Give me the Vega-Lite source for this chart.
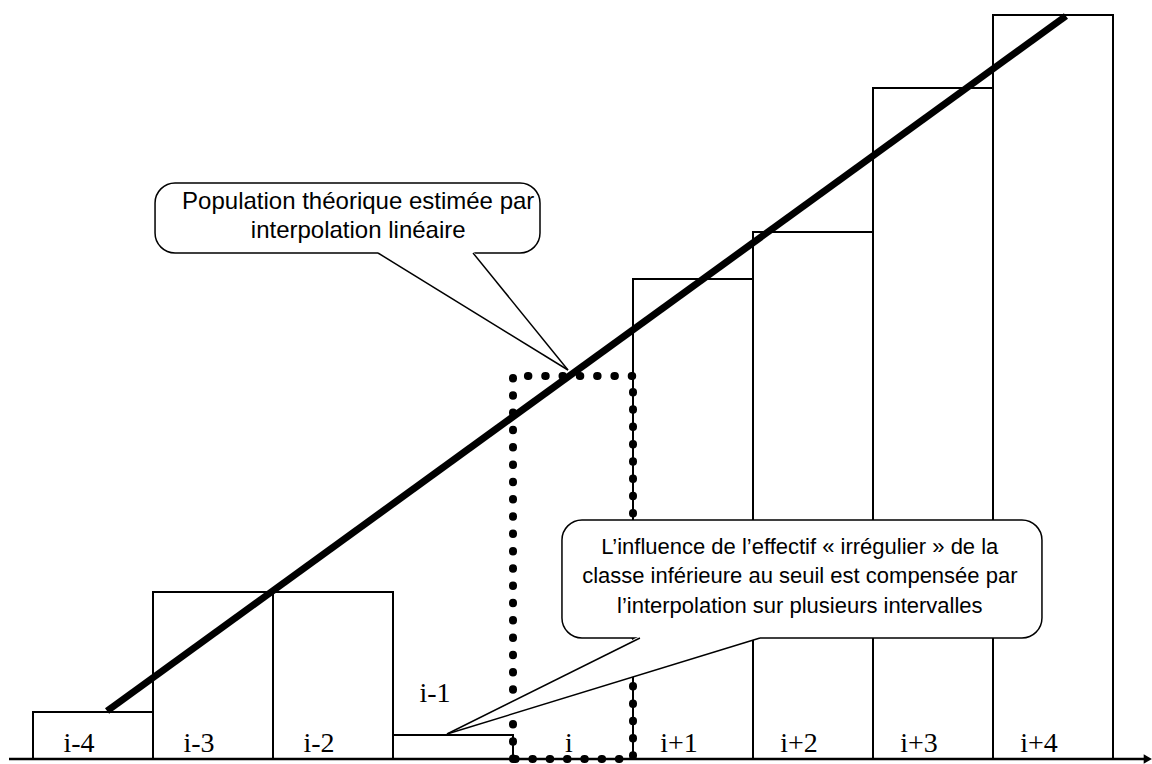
{
  "$schema": "https://vega.github.io/schema/vega-lite/v6.json",
  "width": 1152,
  "height": 764,
  "autosize": {"type": "none"},
  "padding": 0,
  "background": "white",
  "view": {"stroke": null},
  "datasets": {
    "bars": [
      {"cls": "i-4", "x0": 0, "x1": 1, "mid": 0.5, "h": 4.7},
      {"cls": "i-3", "x0": 1, "x1": 2, "mid": 1.5, "h": 16.7},
      {"cls": "i-2", "x0": 2, "x1": 3, "mid": 2.5, "h": 16.7},
      {"cls": "i-1", "x0": 3, "x1": 4, "mid": 3.5, "h": 2.4},
      {"cls": "i", "x0": 4, "x1": 5, "mid": 4.5, "h": 0},
      {"cls": "i+1", "x0": 5, "x1": 6, "mid": 5.5, "h": 48.0},
      {"cls": "i+2", "x0": 6, "x1": 7, "mid": 6.5, "h": 52.7},
      {"cls": "i+3", "x0": 7, "x1": 8, "mid": 7.5, "h": 67.1},
      {"cls": "i+4", "x0": 8, "x1": 9, "mid": 8.5, "h": 74.4}
    ],
    "trend": [
      {"u": 0.617, "v": 4.8},
      {"u": 8.608, "v": 74.3}
    ],
    "dotted": [
      {"o": 1, "u": 4, "v": 0},
      {"o": 2, "u": 4, "v": 38.3},
      {"o": 3, "u": 5, "v": 38.3},
      {"o": 4, "u": 5, "v": 0},
      {"o": 5, "u": 4, "v": 0}
    ],
    "axisline": [
      {"u": -0.2, "v": 0},
      {"u": 9.29, "v": 0}
    ],
    "arrow": [{"u": 9.29, "v": 0}],
    "boxes": [
      {"id": 1, "x0": 1.017, "x1": 4.225, "y0": 50.6, "y1": 57.6},
      {"id": 2, "x0": 4.408, "x1": 8.408, "y0": 12.1, "y1": 23.9}
    ],
    "ptrfill": [
      {"id": 1, "u": 2.875, "top": 50.8, "bot": 50.6},
      {"id": 1, "u": 3.667, "top": 50.8, "bot": 44.75},
      {"id": 1, "u": 4.458, "top": 38.9, "bot": 38.9},
      {"id": 2, "u": 3.45, "top": 2.5, "bot": 2.5},
      {"id": 2, "u": 5.058, "top": 12.3, "bot": 8.42},
      {"id": 2, "u": 6.058, "top": 12.3, "bot": 12.1}
    ],
    "ptredges": [
      {"e": "1a", "o": 1, "u": 2.875, "v": 50.6},
      {"e": "1a", "o": 2, "u": 4.458, "v": 38.9},
      {"e": "1b", "o": 1, "u": 3.667, "v": 50.6},
      {"e": "1b", "o": 2, "u": 4.458, "v": 38.9},
      {"e": "2a", "o": 1, "u": 5.058, "v": 12.1},
      {"e": "2a", "o": 2, "u": 3.45, "v": 2.5},
      {"e": "2b", "o": 1, "u": 6.058, "v": 12.1},
      {"e": "2b", "o": 2, "u": 3.45, "v": 2.5}
    ],
    "notes": [
      {"id": 1, "u": 2.71, "v": 55.73, "size": 24, "txt": "Population théorique estimée par\ninterpolation linéaire"},
      {"id": 2, "u": 6.39, "v": 21.23, "size": 22, "txt": "L’influence de l’effectif « irrégulier » de la\nclasse inférieure au seuil est compensée par\nl’interpolation sur plusieurs intervalles"}
    ]
  },
  "layer": [
    {
      "data": {"name": "bars"},
      "mark": {"type": "rect", "fill": "white", "stroke": "black", "strokeWidth": 2},
      "encoding": {
        "x": {"field": "x0", "type": "quantitative", "scale": {"domain": [-0.275, 9.325], "nice": false, "zero": false}, "axis": null},
        "x2": {"field": "x1"},
        "y": {"field": "h", "type": "quantitative", "scale": {"domain": [-0.5, 75.9], "nice": false, "zero": false}, "axis": null},
        "y2": {"datum": 0}
      }
    },
    {
      "data": {"name": "bars"},
      "transform": [{"filter": "datum.cls != 'i-1' && datum.cls != 'i'"}],
      "mark": {"type": "text", "font": "Liberation Serif", "fontSize": 28, "align": "center", "baseline": "alphabetic", "dx": -14, "dy": -7, "color": "black"},
      "encoding": {
        "x": {"field": "mid", "type": "quantitative"},
        "y": {"datum": 0},
        "text": {"field": "cls"}
      }
    },
    {
      "data": {"name": "bars"},
      "transform": [{"filter": "datum.cls == 'i'"}],
      "mark": {"type": "text", "font": "Liberation Serif", "fontSize": 28, "align": "center", "baseline": "alphabetic", "dx": -4, "dy": -7, "color": "black"},
      "encoding": {
        "x": {"field": "mid", "type": "quantitative"},
        "y": {"datum": 0},
        "text": {"field": "cls"}
      }
    },
    {
      "data": {"name": "bars"},
      "transform": [{"filter": "datum.cls == 'i-1'"}],
      "mark": {"type": "text", "font": "Liberation Serif", "fontSize": 28, "align": "center", "baseline": "alphabetic", "dx": -18, "dy": -33, "color": "black"},
      "encoding": {
        "x": {"field": "mid", "type": "quantitative"},
        "y": {"field": "h", "type": "quantitative"},
        "text": {"field": "cls"}
      }
    },
    {
      "data": {"name": "axisline"},
      "mark": {"type": "line", "color": "black", "strokeWidth": 2.5},
      "encoding": {
        "x": {"field": "u", "type": "quantitative"},
        "y": {"field": "v", "type": "quantitative"}
      }
    },
    {
      "data": {"name": "arrow"},
      "mark": {"type": "point", "shape": "triangle-right", "filled": true, "color": "black", "opacity": 1, "size": 90},
      "encoding": {
        "x": {"field": "u", "type": "quantitative"},
        "y": {"field": "v", "type": "quantitative"}
      }
    },
    {
      "data": {"name": "trend"},
      "mark": {"type": "line", "color": "black", "strokeWidth": 7, "strokeCap": "butt"},
      "encoding": {
        "x": {"field": "u", "type": "quantitative"},
        "y": {"field": "v", "type": "quantitative"}
      }
    },
    {
      "data": {"name": "dotted"},
      "mark": {"type": "line", "color": "black", "strokeWidth": 8, "strokeCap": "round", "strokeDash": [0.5, 16.8]},
      "encoding": {
        "x": {"field": "u", "type": "quantitative"},
        "y": {"field": "v", "type": "quantitative"},
        "order": {"field": "o"}
      }
    },
    {
      "data": {"name": "boxes"},
      "mark": {"type": "rect", "fill": "white", "stroke": "black", "strokeWidth": 1.5, "cornerRadius": 20},
      "encoding": {
        "x": {"field": "x0", "type": "quantitative"},
        "x2": {"field": "x1"},
        "y": {"field": "y0", "type": "quantitative"},
        "y2": {"field": "y1"}
      }
    },
    {
      "data": {"name": "ptrfill"},
      "mark": {"type": "area", "color": "white", "opacity": 1, "orient": "vertical"},
      "encoding": {
        "x": {"field": "u", "type": "quantitative"},
        "y": {"field": "top", "type": "quantitative"},
        "y2": {"field": "bot"},
        "detail": {"field": "id"}
      }
    },
    {
      "data": {"name": "ptredges"},
      "mark": {"type": "line", "color": "black", "strokeWidth": 1.5},
      "encoding": {
        "x": {"field": "u", "type": "quantitative"},
        "y": {"field": "v", "type": "quantitative"},
        "detail": {"field": "e"},
        "order": {"field": "o"}
      }
    },
    {
      "data": {"name": "notes"},
      "mark": {"type": "text", "font": "Liberation Sans", "align": "center", "baseline": "middle", "lineBreak": "\n", "lineHeight": 29.5, "color": "black"},
      "encoding": {
        "x": {"field": "u", "type": "quantitative"},
        "y": {"field": "v", "type": "quantitative"},
        "size": {"field": "size", "type": "quantitative", "scale": null},
        "text": {"field": "txt"}
      }
    }
  ]
}
